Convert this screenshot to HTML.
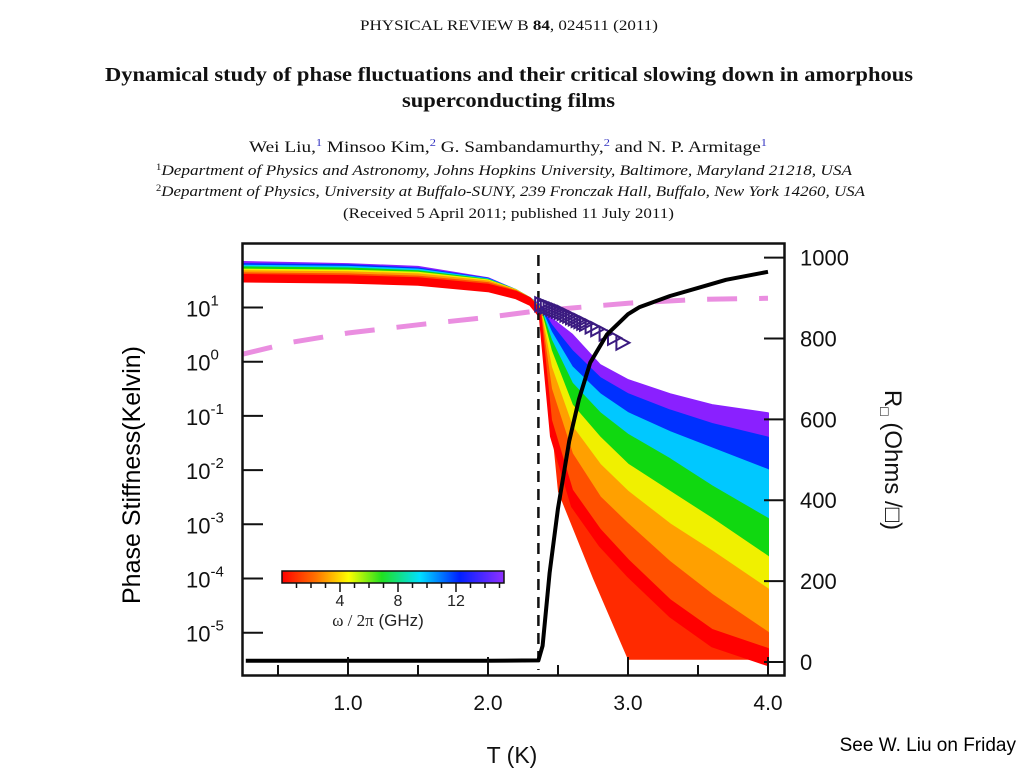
<!DOCTYPE html>
<html><head><meta charset="utf-8"><style>
html,body{margin:0;padding:0;background:#fff;}
svg{display:block;}
.serif{font-family:"Liberation Serif",serif;}
.sans{font-family:"Liberation Sans",sans-serif;}
</style></head><body>
<svg id="chart" width="1024" height="768" viewBox="0 0 1024 768">
<defs>
<linearGradient id="cbar" x1="0" x2="1" y1="0" y2="0">
<stop offset="0" stop-color="#ff0000"/><stop offset="0.15" stop-color="#ff7000"/><stop offset="0.3" stop-color="#ffff00"/><stop offset="0.45" stop-color="#20e020"/><stop offset="0.62" stop-color="#00e0ff"/><stop offset="0.8" stop-color="#0020ff"/><stop offset="1" stop-color="#9030ff"/>
</linearGradient>
<clipPath id="plotclip"><rect x="243" y="244" width="541" height="431"/></clipPath>
</defs>
<g class="serif" fill="#111">
<text x="360" y="30" font-size="15" textLength="298" lengthAdjust="spacingAndGlyphs">PHYSICAL REVIEW B <tspan font-weight="bold">84</tspan>, 024511 (2011)</text>
<text x="105" y="81" font-size="20" font-weight="bold" textLength="808" lengthAdjust="spacingAndGlyphs">Dynamical study of phase fluctuations and their critical slowing down in amorphous</text>
<text x="402" y="107" font-size="20" font-weight="bold" textLength="213" lengthAdjust="spacingAndGlyphs">superconducting films</text>
<text x="249" y="152" font-size="15.5" textLength="518" lengthAdjust="spacingAndGlyphs">Wei Liu,<tspan fill="#3030c0" font-size="10" dy="-6">1</tspan><tspan dy="6"> Minsoo Kim,</tspan><tspan fill="#3030c0" font-size="10" dy="-6">2</tspan><tspan dy="6"> G. Sambandamurthy,</tspan><tspan fill="#3030c0" font-size="10" dy="-6">2</tspan><tspan dy="6"> and N. P. Armitage</tspan><tspan fill="#3030c0" font-size="10" dy="-6">1</tspan></text>
<text x="156" y="175" font-size="14.5" font-style="italic" textLength="696" lengthAdjust="spacingAndGlyphs"><tspan font-size="9" dy="-5" font-style="normal">1</tspan><tspan dy="5">Department of Physics and Astronomy, Johns Hopkins University, Baltimore, Maryland 21218, USA</tspan></text>
<text x="156" y="196" font-size="14.5" font-style="italic" textLength="709" lengthAdjust="spacingAndGlyphs"><tspan font-size="9" dy="-5" font-style="normal">2</tspan><tspan dy="5">Department of Physics, University at Buffalo-SUNY, 239 Fronczak Hall, Buffalo, New York 14260, USA</tspan></text>
<text x="343" y="218" font-size="14.5" textLength="331" lengthAdjust="spacingAndGlyphs">(Received 5 April 2011; published 11 July 2011)</text>
</g>
<g id="plot" clip-path="url(#plotclip)"></g>
<g id="axes"></g>
<rect x="242.5" y="243.5" width="542" height="432" fill="none" stroke="#111" stroke-width="2.5"/>
<g class="sans">
<rect x="282" y="571" width="222" height="12" fill="url(#cbar)" stroke="#111" stroke-width="1.5"/>
<g id="cbticks"></g>
<text x="378" y="626" font-size="17" text-anchor="middle" fill="#222"><tspan class="serif" font-family="Liberation Serif">ω / 2π</tspan>  (GHz)</text>
</g>
<text class="sans" x="140" y="475" font-size="25" text-anchor="middle" transform="rotate(-90 140 475)" fill="#000">Phase Stiffness(Kelvin)</text>
<text class="sans" x="885" y="460" font-size="24" text-anchor="middle" transform="rotate(90 885 460)" fill="#111">R<tspan font-size="14" dy="5">□</tspan><tspan dy="-5"> (Ohms /□)</tspan></text>
<text class="sans" x="512" y="763" font-size="23" text-anchor="middle" fill="#111">T (K)</text>
<text x="1016" y="751" font-size="19" text-anchor="end" font-family="'Liberation Sans',sans-serif" fill="#000">See W. Liu on Friday</text>
</svg>
<script>
// ---- data ----
const tGrid = [0.25,1.0,1.5,2.0,2.2,2.3,2.37,2.45,2.6,2.8,3.0,3.3,3.6,4.0];
const freqs = [15,12,10,8,6,4,2,0.5];
const freqColors = ['#8a20ff','#0030ff','#00c8ff','#10d810','#f0f000','#ffa000','#ff5000','#ff0000'];
const logStiff15 = [1.84,1.80,1.75,1.54,1.32,1.17,1.05,0.80,0.50,-0.06,-0.34,-0.60,-0.80,-0.95];
const logStiff12 = [1.80,1.78,1.72,1.53,1.32,1.17,1.03,0.68,0.20,-0.30,-0.60,-0.90,-1.15,-1.40];
const logStiff10 = [1.77,1.75,1.70,1.52,1.32,1.17,1.02,0.55,-0.10,-0.60,-0.95,-1.30,-1.60,-2.00];
const logStiff8  = [1.74,1.72,1.67,1.51,1.32,1.17,1.01,0.40,-0.40,-0.95,-1.35,-1.80,-2.30,-2.90];
const logStiff6  = [1.70,1.68,1.64,1.50,1.32,1.17,1.00,0.20,-0.80,-1.40,-1.90,-2.40,-2.90,-3.60];
const logStiff4  = [1.67,1.65,1.61,1.48,1.31,1.17,0.99,-0.10,-1.20,-1.90,-2.40,-3.00,-3.50,-4.20];
const logStiff2  = [1.63,1.61,1.57,1.45,1.30,1.17,0.97,-0.50,-1.70,-2.50,-3.00,-3.70,-4.30,-5.00];
const logStiff05 = [1.60,1.58,1.54,1.42,1.29,1.17,0.95,-1.08,-2.37,-3.10,-3.66,-4.40,-4.95,-5.30];
const stiffSeries = [logStiff15,logStiff12,logStiff10,logStiff8,logStiff6,logStiff4,logStiff2,logStiff05];
const rT = [0.27,1.0,2.0,2.36,2.39,2.44,2.5,2.58,2.65,2.73,2.85,3.0,3.08,3.3,3.5,3.7,4.0];
const rOhm = [3,3,3,4,40,220,380,546,650,740,810,860,877,905,925,945,965];
const pinkT = [0.25,0.6,1.0,1.5,2.0,2.3,2.6,3.0,3.5,4.0];
const pinkLog = [0.14,0.36,0.53,0.68,0.82,0.92,0.99,1.08,1.15,1.17];
const triT = [2.38,2.40,2.42,2.44,2.46,2.48,2.50,2.52,2.54,2.56,2.58,2.60,2.62,2.64,2.66,2.68,2.70,2.74,2.78,2.84,2.90,2.96];
const triLog = [1.06,1.04,1.02,1.00,0.98,0.96,0.94,0.92,0.90,0.87,0.85,0.82,0.80,0.77,0.75,0.72,0.70,0.65,0.60,0.52,0.44,0.35];
const tcT = 2.36;
const xTicks = [0.5,1.0,1.5,2.0,2.5,3.0,3.5,4.0];
const xLabels = ['1.0','2.0','3.0','4.0'];
const yDecades = [1,0,-1,-2,-3,-4,-5];
const rTicks = [0,200,400,600,800,1000];
const cbTicks = [1,2,3,4,5,6,7,8,9,10,11,12,13,14,15];
const cbLabels = [4,8,12];
// ---- axis functions ----
const x = T => 348 + (T - 1) * 140;
const yL = l => 307.5 + (1 - l) * 54.2;
const yR = r => 662 - r * 0.4044;
const xCb = f => 282 + f * 14.5;
const NS = 'http://www.w3.org/2000/svg';
const plot = document.getElementById('plot');
const axes = document.getElementById('axes');
function mk(tag, attrs, parent){const e=document.createElementNS(NS,tag);for(const k in attrs)e.setAttribute(k,attrs[k]);parent.appendChild(e);return e;}
// red noisy floor below lowest-frequency curve at high T
{
  const s = logStiff05;
  let d = 'M'+x(2.45)+','+yL(s[7]);
  for (let j=7;j<tGrid.length;j++) d+=' L'+x(tGrid[j])+','+yL(s[j]);
  d += ' L'+x(4.0)+','+yL(-5.5)+' L'+x(3.0)+','+yL(-5.5)+' L'+x(2.75)+','+yL(-4.0)+' L'+x(2.5)+','+yL(-2.4)+' Z';
  const floor = mk('path',{d:d,fill:'#ff2a00'},plot);
  
  
}
// bands between successive curves
for (let i = 0; i < stiffSeries.length; i++) {
  const s = stiffSeries[i];
  let d = tGrid.map((t,j)=>(j?'L':'M')+x(t).toFixed(1)+','+yL(s[j]).toFixed(1)).join(' ');
  const next = stiffSeries[i+1];
  const n = tGrid.length;
  let back = [];
  for (let j = n-1; j >= 0; j--) {
    const v = next ? next[j] : s[j] - (tGrid[j] < 2.4 ? 0.12 : 0.3);
    back.push('L'+x(tGrid[j]).toFixed(1)+','+yL(v).toFixed(1));
  }
  d += ' ' + back.join(' ') + ' Z';
  const band = mk('path',{d:d,fill:freqColors[i],stroke:freqColors[i],'stroke-width':2,'stroke-linejoin':'round'},plot);
  
  
}
// pink dashed
{
  const d = pinkT.map((t,j)=>(j?'L':'M')+x(t).toFixed(1)+','+yL(pinkLog[j]).toFixed(1)).join(' ');
  const p = mk('path',{d:d,fill:'none',stroke:'#ea8ee0','stroke-width':5,'stroke-dasharray':'30 22'},plot);
  
  
}
// Tc dashed vertical
{
  const l = mk('line',{x1:x(tcT),x2:x(tcT),y1:255,y2:670,stroke:'#111','stroke-width':2.5,'stroke-dasharray':'11 7'},plot);
  
  
}
// triangles
triT.forEach((t,j)=>{
  const cx=x(t), cy=yL(triLog[j]);
  const tri = mk('path',{d:`M${cx-6},${cy-7} L${cx+7},${cy} L${cx-6},${cy+7} Z`,fill:'none',stroke:'#3a1a80','stroke-width':2},plot);
  
  
});
// resistance curve
{
  const d = rT.map((t,j)=>(j?'L':'M')+x(t).toFixed(1)+','+yR(rOhm[j]).toFixed(1)).join(' ');
  const p = mk('path',{d:d,fill:'none',stroke:'#000','stroke-width':4,'stroke-linejoin':'round'},plot);
  
  
}
// x ticks
xTicks.forEach(t=>{
  const major = Math.abs(t-Math.round(t))<1e-6;
  const tk = mk('line',{x1:x(t),x2:x(t),y1:676,y2:major?657:665,stroke:'#111','stroke-width':2},axes);
  
  
});
xLabels.forEach(lab=>{
  const tx = mk('text',{x:x(parseFloat(lab)),y:710,'font-size':21,'text-anchor':'middle','font-family':'Liberation Sans, sans-serif',fill:'#111'},axes);
  tx.textContent = lab;
  
  
});
// left log ticks
yDecades.forEach(dd=>{
  const tk = mk('line',{x1:243,x2:263,y1:yL(dd),y2:yL(dd),stroke:'#111','stroke-width':2},axes);
  
  
  const tx = mk('text',{x:186,y:yL(dd)+9,'font-size':22,'font-family':'Liberation Sans, sans-serif',fill:'#111'},axes);
  tx.innerHTML = '10<tspan font-size="15" dy="-11">'+dd+'</tspan>';
  
  
});
// right ticks
rTicks.forEach(r=>{
  const tk = mk('line',{x1:764,x2:785,y1:yR(r),y2:yR(r),stroke:'#111','stroke-width':2},axes);
  
  
  const tx = mk('text',{x:800,y:yR(r)+8,'font-size':22,'font-family':'Liberation Sans, sans-serif',fill:'#111'},axes);
  tx.textContent = r;
  
  
});
// colorbar ticks
const cbg = document.getElementById('cbticks');
cbTicks.forEach(f=>{
  const tk = mk('line',{x1:xCb(f),x2:xCb(f),y1:583,y2:f%4===0?592:588,stroke:'#111','stroke-width':1.5},cbg);
  
  
});
cbLabels.forEach(f=>{
  const tx = mk('text',{x:xCb(f),y:606,'font-size':16,'text-anchor':'middle','font-family':'Liberation Sans, sans-serif',fill:'#222'},cbg);
  tx.textContent = f;
  
  
});
</script>
</body></html>
